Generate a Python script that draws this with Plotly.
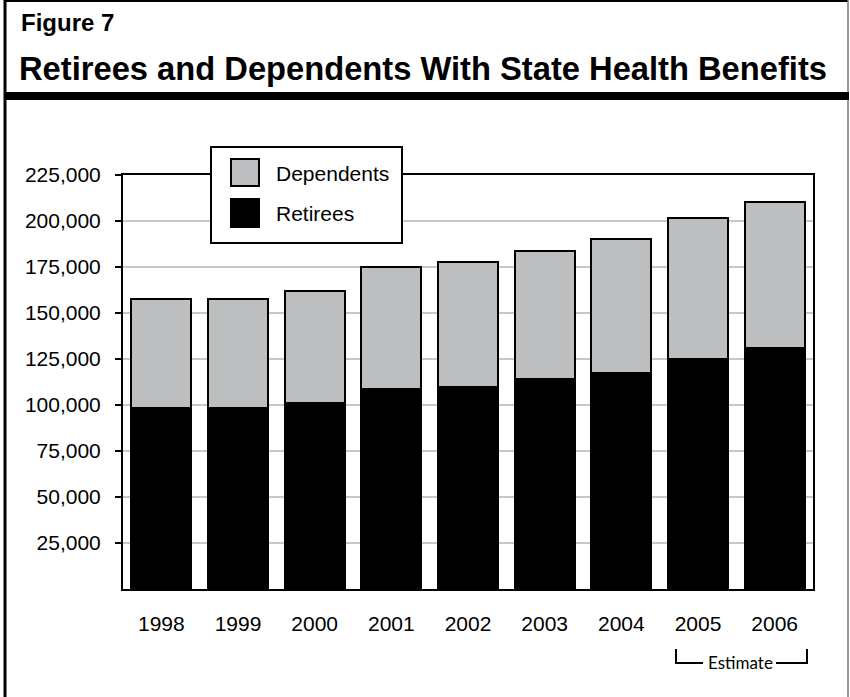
import plotly.graph_objects as go

years = ["1998", "1999", "2000", "2001", "2002", "2003", "2004", "2005", "2006"]
retirees = [98500, 98600, 101000, 108500, 110000, 114000, 117500, 125000, 131000]
dependents = [59000, 59000, 60800, 66500, 67800, 69800, 72800, 76600, 79300]
ytick_vals = [25000, 50000, 75000, 100000, 125000, 150000, 175000, 200000, 225000]

W, H = 850, 697
L, R, T, B = 123, 813, 175, 589


def px(x):
    return (x - L) / (R - L)


def py(y):
    return (B - y) / (B - T)


BAR_GRAY = "#bdbec0"
FONT = "Liberation Sans, Arial, Helvetica, sans-serif"

fig = go.Figure()
fig.add_trace(go.Bar(x=years, y=retirees, name="Retirees",
                     marker=dict(color="black", line=dict(color="black", width=2)),
                     showlegend=False))
fig.add_trace(go.Bar(x=years, y=dependents, name="Dependents",
                     marker=dict(color=BAR_GRAY, line=dict(color="black", width=2)),
                     showlegend=False))

shapes = []
# outer frame
shapes.append(dict(type="line", xref="paper", yref="paper", x0=px(5), x1=px(5), y0=py(0), y1=py(H),
                   line=dict(color="black", width=3)))
shapes.append(dict(type="line", xref="paper", yref="paper", x0=px(4), x1=px(848), y0=py(1), y1=py(1),
                   line=dict(color="black", width=2)))
shapes.append(dict(type="line", xref="paper", yref="paper", x0=px(848), x1=px(848), y0=py(0), y1=py(H),
                   line=dict(color="#777777", width=1.5)))
# header bar
shapes.append(dict(type="rect", xref="paper", yref="paper", x0=px(4), x1=px(849), y0=py(92), y1=py(100),
                   fillcolor="black", line=dict(width=0)))
# legend box
shapes.append(dict(type="rect", xref="paper", yref="paper", x0=px(211), x1=px(402), y0=py(147), y1=py(243),
                   fillcolor="white", line=dict(color="black", width=2), layer="above"))
shapes.append(dict(type="rect", xref="paper", yref="paper", x0=px(231), x1=px(259), y0=py(159), y1=py(186),
                   fillcolor=BAR_GRAY, line=dict(color="black", width=2), layer="above"))
shapes.append(dict(type="rect", xref="paper", yref="paper", x0=px(231), x1=px(259), y0=py(199), y1=py(227),
                   fillcolor="black", line=dict(color="black", width=2), layer="above"))
# estimate bracket
shapes.append(dict(type="path", xref="paper", yref="paper",
                   path=f"M {px(676)},{py(649)} L {px(676)},{py(663)} L {px(703)},{py(663)}",
                   line=dict(color="black", width=2)))
shapes.append(dict(type="path", xref="paper", yref="paper",
                   path=f"M {px(776)},{py(663)} L {px(807)},{py(663)} L {px(807)},{py(649)}",
                   line=dict(color="black", width=2)))

annotations = [
    dict(text="<b>Figure 7</b>", xref="paper", yref="paper", x=px(19), y=py(23),
         xanchor="left", yanchor="middle", showarrow=False,
         font=dict(family=FONT, size=24, color="black")),
    dict(text="<b>Retirees and Dependents With State Health Benefits</b>", xref="paper", yref="paper",
         x=px(17), y=py(69), xanchor="left", yanchor="middle", showarrow=False,
         font=dict(family=FONT, size=32.7, color="black")),
    dict(text="Dependents", xref="paper", yref="paper", x=px(274), y=py(173),
         xanchor="left", yanchor="middle", showarrow=False,
         font=dict(family=FONT, size=21, color="black")),
    dict(text="Retirees", xref="paper", yref="paper", x=px(274), y=py(213),
         xanchor="left", yanchor="middle", showarrow=False,
         font=dict(family=FONT, size=21, color="black")),
    dict(text="Estimate", xref="paper", yref="paper", x=px(740), y=py(662),
         xanchor="center", yanchor="middle", showarrow=False,
         font=dict(family="Lato, Open Sans, sans-serif", size=17, color="black")),
]

fig.update_layout(
    width=W, height=H,
    margin=dict(l=L, r=W - R, t=T, b=H - B, pad=0),
    paper_bgcolor="white", plot_bgcolor="white",
    barmode="stack", bargap=0.22,
    shapes=shapes, annotations=annotations,
    font=dict(family=FONT, size=21, color="black"),
)
fig.update_xaxes(showline=True, mirror=True, linecolor="black", linewidth=2,
                 ticks="", showgrid=False, ticklabelstandoff=15,
                 tickfont=dict(family=FONT, size=21, color="black"))
fig.update_yaxes(range=[0, 225000], tickvals=ytick_vals, tickformat=",",
                 showline=True, mirror=True, linecolor="black", linewidth=2,
                 ticks="outside", ticklen=6, tickwidth=2, tickcolor="black",
                 ticklabelstandoff=10,
                 showgrid=True, gridcolor="#c8c8c8", gridwidth=2, zeroline=False,
                 tickfont=dict(family=FONT, size=21, color="black"))

fig.write_html("out.html", config={"displayModeBar": False},
               post_script="document.body.style.margin='0';document.body.style.overflow='hidden';")
